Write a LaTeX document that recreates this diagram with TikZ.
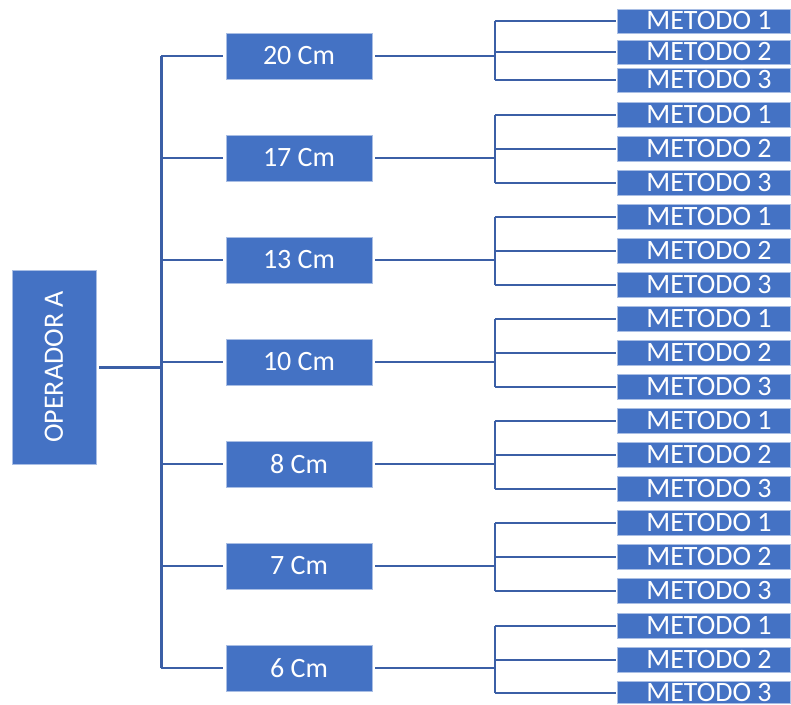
\documentclass[tikz,border=0pt]{standalone}
\usepackage{fontspec}
\setmainfont{Carlito}
\definecolor{boxblue}{HTML}{4472C4}
\definecolor{lineblue}{HTML}{3B5FA6}
\definecolor{boxedge}{HTML}{A9BEE4}
\tikzset{
  bluebox/.style={fill=boxblue, draw=boxedge, line width=0.6pt, text=white, inner sep=0pt,
    font=\fontsize{28}{30}\selectfont},
  opbox/.style={bluebox, rotate=90, minimum width=194, minimum height=84, outer sep=3pt},
  midbox/.style={bluebox, minimum width=146, minimum height=46, outer sep=3pt},
  metbox/.style={bluebox, minimum width=173, outer sep=2pt},
  trunkline/.style={draw=lineblue, line width=3pt},
  branchline/.style={draw=lineblue, line width=2pt},
}
\begin{document}
\begin{tikzpicture}[x=1pt,y=-1pt]
\useasboundingbox (0,0) rectangle (791,704);
% root
\node[opbox] (op) at (54,367) {OPERADOR A};
% middle level
\foreach \i/\lab in {1/20,2/17,3/13,4/10,5/8,6/7,7/6}{
  \pgfmathsetmacro\yy{56+102*(\i-1)}
  \node[midbox] (m\i) at (299,\yy) {\lab\ Cm};
  \coordinate (t\i) at (161,\yy);
  \coordinate (j\i) at (495,\yy);
}
% trunk
\draw[trunkline] (t1) -- (t7);
\draw[trunkline] (op.south) -- (op.south -| t1);
\foreach \i in {1,...,7}{
  \draw[branchline] (t\i) -- (m\i.west);
  \draw[branchline] (m\i.east) -- (j\i);
}
% leaves
\foreach \i/\ya/\yb/\yc/\h/\hl in {1/21/52/80/24/24, 2/114.5/148.5/182.5/25/25, 3/216.5/250.5/284.5/25/25,
  4/318.5/352.5/386.5/25/25, 5/420.5/454.5/488.5/25/25, 6/522.5/556.5/590.5/25/25, 7/625.5/659.5/692.5/25/22.5}{
  \node[metbox, minimum height=\h] (a\i1) at (704,\ya) {\hspace{10pt}METODO 1};
  \node[metbox, minimum height=\h] (a\i2) at (704,\yb) {\hspace{10pt}METODO 2};
  \node[metbox, minimum height=\hl] (a\i3) at (704,\yc) {\hspace{10pt}METODO 3};
  \draw[branchline] (a\i1.west -| j\i) -- (a\i3.west -| j\i);
  \draw[branchline] (a\i1.west -| j\i) -- (a\i1.west);
  \draw[branchline] (a\i2.west -| j\i) -- (a\i2.west);
  \draw[branchline] (a\i3.west -| j\i) -- (a\i3.west);
}
\end{tikzpicture}
\end{document}
